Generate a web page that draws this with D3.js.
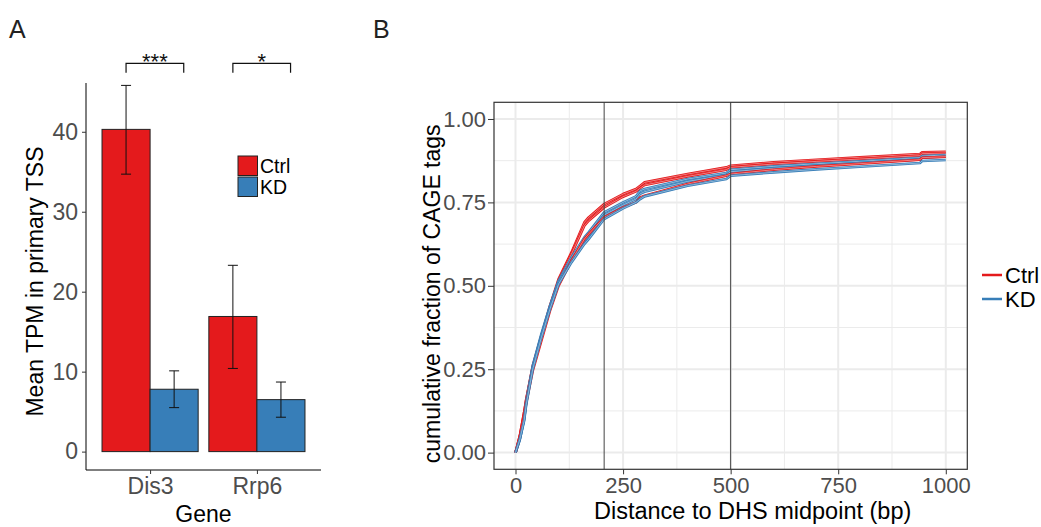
<!DOCTYPE html>
<html>
<head>
<meta charset="utf-8">
<script src="https://cdn.jsdelivr.net/npm/d3@7"></script>
<style>
  body { margin: 0; background: #fff; }
  text { font-family: "Liberation Sans", Arial, sans-serif; }
  .tick-label { fill: #4d4d4d; }
</style>
</head>
<body>
<div id="chart"></div>
<script>
// ---- data: panel A (bar chart) ----
const genes = ["Dis3", "Rrp6"];
const conditions = ["Ctrl", "KD"];
const meanTPM = { Dis3: [40.3, 7.8], Rrp6: [16.9, 6.5] };
const errLow = { Dis3: [34.7, 5.5], Rrp6: [10.4, 4.3] };
const errHigh = { Dis3: [45.8, 10.1], Rrp6: [23.3, 8.7] };
const signif = ["***", "*"];
const yTicksA = [0, 10, 20, 30, 40];

// ---- data: panel B (cumulative curves) ----
const distance = [0, 10, 20, 25, 40, 60, 80, 100, 130, 160, 170, 206, 250, 280, 290, 300, 400, 490, 500, 600, 700, 800, 940, 945, 1000];
const ctrl1 = [0, 0.05, 0.12, 0.16, 0.26, 0.35, 0.44, 0.52, 0.60, 0.69, 0.705, 0.745, 0.775, 0.79, 0.80, 0.81, 0.835, 0.855, 0.86, 0.87, 0.878, 0.885, 0.895, 0.90, 0.902];
const ctrl2 = [0, 0.05, 0.12, 0.16, 0.255, 0.345, 0.435, 0.515, 0.595, 0.68, 0.695, 0.735, 0.767, 0.783, 0.793, 0.802, 0.828, 0.848, 0.855, 0.865, 0.873, 0.88, 0.89, 0.896, 0.898];
const ctrl3 = [0, 0.045, 0.11, 0.15, 0.245, 0.335, 0.425, 0.50, 0.575, 0.64, 0.655, 0.705, 0.735, 0.75, 0.765, 0.77, 0.805, 0.83, 0.835, 0.848, 0.858, 0.866, 0.878, 0.884, 0.887];
const kd1 = [0, 0.04, 0.10, 0.155, 0.26, 0.355, 0.44, 0.515, 0.585, 0.645, 0.66, 0.72, 0.75, 0.768, 0.785, 0.79, 0.82, 0.838, 0.848, 0.858, 0.866, 0.873, 0.884, 0.889, 0.892];
const kd2 = [0, 0.04, 0.10, 0.15, 0.255, 0.35, 0.435, 0.51, 0.578, 0.635, 0.65, 0.712, 0.742, 0.76, 0.776, 0.782, 0.813, 0.832, 0.842, 0.852, 0.86, 0.868, 0.879, 0.884, 0.887];
const kd3 = [0, 0.04, 0.095, 0.145, 0.25, 0.345, 0.43, 0.505, 0.57, 0.625, 0.64, 0.70, 0.732, 0.75, 0.76, 0.768, 0.80, 0.82, 0.83, 0.84, 0.849, 0.857, 0.868, 0.874, 0.877];
const vLines = [206, 500];
const xTicksB = [0, 250, 500, 750, 1000];
const yTicksB = [0, 0.25, 0.5, 0.75, 1.0];

const colors = { Ctrl: "#E41A1C", KD: "#377EB8" };

const svg = d3.select("#chart").append("svg")
    .attr("width", 1041)
    .attr("height", 527);

// ================= PANEL A =================
const A = { left: 86, right: 321, top: 83, bottom: 470 };

svg.append("text").attr("x", 9).attr("y", 38)
    .style("font-size", "25px").style("fill", "#222").text("A");

const xGene = d3.scalePoint().domain(genes).range([A.left, A.right]).padding(0.6);
const yTPM = d3.scaleLinear().domain([-2.3, 46.1]).range([A.bottom, A.top]);
const barW = xGene.step() * 0.9 / 2;
const xCond = d3.scaleBand().domain(conditions).range([-barW, barW]);

const gA = svg.append("g");

genes.forEach(g => {
    conditions.forEach((c, i) => {
        const x0 = xGene(g) + xCond(c);
        gA.append("rect")
            .attr("x", x0)
            .attr("y", yTPM(meanTPM[g][i]))
            .attr("width", xCond.bandwidth())
            .attr("height", yTPM(0) - yTPM(meanTPM[g][i]))
            .style("fill", colors[c])
            .style("stroke", "#222")
            .style("stroke-width", 1);
    });
});

// error bars
genes.forEach(g => {
    conditions.forEach((c, i) => {
        const cx = xGene(g) + xCond(c) + xCond.bandwidth() / 2;
        const hw = 5;
        const eb = gA.append("g").style("stroke", "#111").style("stroke-width", 1);
        eb.append("line").attr("x1", cx).attr("x2", cx)
            .attr("y1", yTPM(errLow[g][i])).attr("y2", yTPM(errHigh[g][i]));
        eb.append("line").attr("x1", cx - hw).attr("x2", cx + hw)
            .attr("y1", yTPM(errLow[g][i])).attr("y2", yTPM(errLow[g][i]));
        eb.append("line").attr("x1", cx - hw).attr("x2", cx + hw)
            .attr("y1", yTPM(errHigh[g][i])).attr("y2", yTPM(errHigh[g][i]));
    });
});

// significance brackets
genes.forEach((g, k) => {
    const x1 = xGene(g) - barW / 2;
    const x2 = xGene(g) + barW * 0.7;
    gA.append("path")
        .attr("d", `M${x1},72.7 V63.3 H${x2} V72.7`)
        .style("fill", "none").style("stroke", "#111").style("stroke-width", 1.2);
    gA.append("text")
        .attr("x", (x1 + x2) / 2).attr("y", 69)
        .attr("text-anchor", "middle")
        .style("font-size", "22px").style("fill", "#111")
        .text(signif[k]);
});

// axes A
const yAxisA = gA.append("g")
    .attr("transform", `translate(${A.left},0)`)
    .call(d3.axisLeft(yTPM).tickValues(yTicksA).tickSize(4).tickPadding(4));
yAxisA.select(".domain").attr("d", `M0,${A.top}V${A.bottom}`).style("stroke", "#000");
yAxisA.selectAll(".tick line").style("stroke", "#333");
yAxisA.selectAll(".tick text").attr("class", "tick-label").style("font-size", "23px").style("font-family", "Liberation Sans, Arial, sans-serif");

const xAxisA = gA.append("g")
    .attr("transform", `translate(0,${A.bottom})`)
    .call(d3.axisBottom(xGene).tickSize(4).tickPadding(4));
xAxisA.select(".domain").attr("d", `M${A.left},0H${A.right}`).style("stroke", "#000");
xAxisA.selectAll(".tick line").style("stroke", "#333");
xAxisA.selectAll(".tick text").attr("class", "tick-label").style("font-size", "23px").style("font-family", "Liberation Sans, Arial, sans-serif");

gA.append("text")
    .attr("x", (A.left + A.right) / 2).attr("y", 522)
    .attr("text-anchor", "middle").style("font-size", "23px").style("fill", "#000")
    .text("Gene");
gA.append("text")
    .attr("transform", `translate(43,${(A.top + A.bottom) / 2 + 5}) rotate(-90)`)
    .attr("text-anchor", "middle").style("font-size", "23px").style("fill", "#000")
    .text("Mean TPM in primary TSS");

// legend A
conditions.forEach((c, i) => {
    const ly = 156 + i * 21;
    gA.append("rect").attr("x", 238).attr("y", ly).attr("width", 19.5).attr("height", 19.5)
        .style("fill", colors[c]).style("stroke", "#222").style("stroke-width", 1);
    gA.append("text").attr("x", 260).attr("y", ly + 17)
        .style("font-size", "19.5px").style("fill", "#000").text(c);
});

// ================= PANEL B =================
const B = { left: 494, right: 967.3, top: 102.3, bottom: 469.3 };

svg.append("text").attr("x", 373).attr("y", 38)
    .style("font-size", "25px").style("fill", "#222").text("B");

const xDist = d3.scaleLinear().domain([-50, 1050]).range([B.left, B.right]);
const yFrac = d3.scaleLinear().domain([-0.05, 1.05]).range([B.bottom, B.top]);

const gB = svg.append("g");

// grid
const minorX = [125, 375, 625, 875];
const minorY = [0.125, 0.375, 0.625, 0.875];
gB.selectAll(".gmx").data(minorX).enter().append("line")
    .attr("x1", d => xDist(d)).attr("x2", d => xDist(d))
    .attr("y1", B.top).attr("y2", B.bottom)
    .style("stroke", "#ebebeb").style("stroke-width", 1);
gB.selectAll(".gmy").data(minorY).enter().append("line")
    .attr("x1", B.left).attr("x2", B.right)
    .attr("y1", d => yFrac(d)).attr("y2", d => yFrac(d))
    .style("stroke", "#ebebeb").style("stroke-width", 1);
gB.selectAll(".gx").data(xTicksB).enter().append("line")
    .attr("x1", d => xDist(d)).attr("x2", d => xDist(d))
    .attr("y1", B.top).attr("y2", B.bottom)
    .style("stroke", "#ebebeb").style("stroke-width", 2);
gB.selectAll(".gy").data(yTicksB).enter().append("line")
    .attr("x1", B.left).attr("x2", B.right)
    .attr("y1", d => yFrac(d)).attr("y2", d => yFrac(d))
    .style("stroke", "#ebebeb").style("stroke-width", 2);

// curves
const series = [
    { cond: "Ctrl", values: ctrl1 },
    { cond: "Ctrl", values: ctrl2 },
    { cond: "KD", values: kd1 },
    { cond: "KD", values: kd2 },
    { cond: "Ctrl", values: ctrl3 },
    { cond: "KD", values: kd3 }
];
const line = d3.line()
    .x((d, i) => xDist(distance[i]))
    .y(d => yFrac(d));

series.forEach(s => {
    gB.append("path").datum(s.values)
        .attr("d", line)
        .style("fill", "none").style("stroke", colors[s.cond])
        .style("stroke-width", 2.6).style("stroke-linejoin", "round");
    gB.append("path").datum(s.values)
        .attr("d", line)
        .style("fill", "none").style("stroke", "#fff").style("stroke-opacity", 0.55)
        .style("stroke-width", 0.8);
});

// vertical reference lines
gB.selectAll(".vline").data(vLines).enter().append("line")
    .attr("x1", d => xDist(d)).attr("x2", d => xDist(d))
    .attr("y1", B.top).attr("y2", B.bottom)
    .style("stroke", "#444").style("stroke-width", 1);

// panel border
gB.append("rect")
    .attr("x", B.left).attr("y", B.top)
    .attr("width", B.right - B.left).attr("height", B.bottom - B.top)
    .style("fill", "none").style("stroke", "#333").style("stroke-width", 1.2);

// axes B
const yAxisB = gB.append("g")
    .attr("transform", `translate(${B.left},0)`)
    .call(d3.axisLeft(yFrac).tickValues(yTicksB).tickFormat(d3.format(".2f")).tickSize(6).tickPadding(2));
yAxisB.select(".domain").remove();
yAxisB.selectAll(".tick line").style("stroke", "#333");
yAxisB.selectAll(".tick text").attr("class", "tick-label").style("font-size", "22px").style("font-family", "Liberation Sans, Arial, sans-serif");

const xAxisB = gB.append("g")
    .attr("transform", `translate(0,${B.bottom})`)
    .call(d3.axisBottom(xDist).tickValues(xTicksB).tickFormat(d3.format("d")).tickSize(5).tickPadding(3));
xAxisB.select(".domain").remove();
xAxisB.selectAll(".tick line").style("stroke", "#333");
xAxisB.selectAll(".tick text").attr("class", "tick-label").style("font-size", "22px").style("font-family", "Liberation Sans, Arial, sans-serif");

gB.append("text")
    .attr("x", (B.left + B.right) / 2 + 22).attr("y", 519)
    .attr("text-anchor", "middle").style("font-size", "23.5px").style("fill", "#000")
    .text("Distance to DHS midpoint (bp)");
gB.append("text")
    .attr("transform", `translate(440,${(B.top + B.bottom) / 2 + 8}) rotate(-90)`)
    .attr("text-anchor", "middle").style("font-size", "23px").style("fill", "#000")
    .text("cumulative fraction of CAGE tags");

// legend B
conditions.forEach((c, i) => {
    const ly = 275 + i * 24;
    gB.append("line").attr("x1", 982).attr("x2", 1002).attr("y1", ly).attr("y2", ly)
        .style("stroke", colors[c]).style("stroke-width", 2.5);
    gB.append("text").attr("x", 1005).attr("y", ly + 8)
        .style("font-size", "22px").style("fill", "#000").text(c);
});
</script>
</body>
</html>
